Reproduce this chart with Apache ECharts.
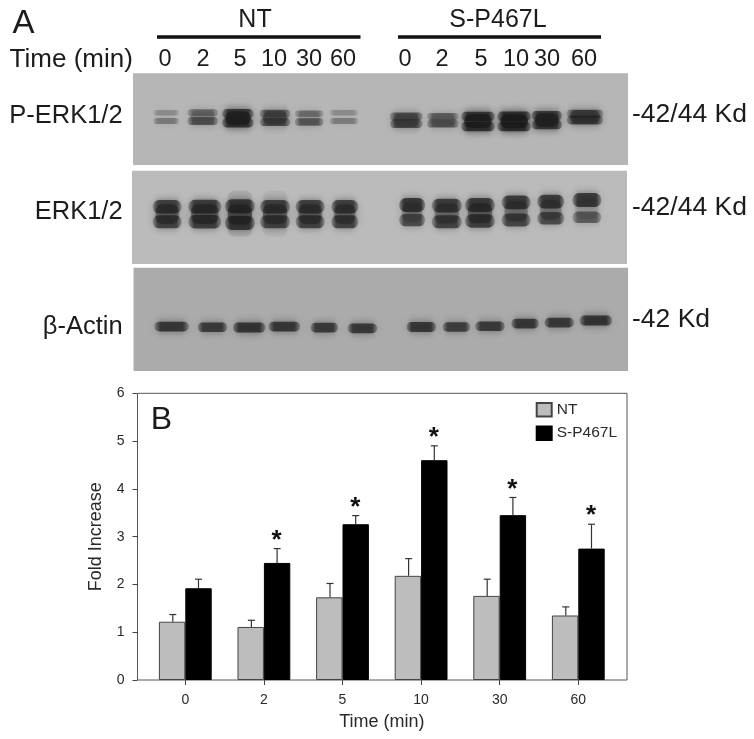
<!DOCTYPE html>
<html><head><meta charset="utf-8">
<style>html,body{margin:0;padding:0;background:#fff}#c{width:754px;height:739px}</style>
<script src="https://cdn.jsdelivr.net/npm/echarts@6/dist/echarts.min.js"></script>
</head><body><div id="c"></div>
<script>
// ---- Panel B data ----
const timeLabels = ['0','2','5','10','30','60'];
const ntMeans = [1.22,1.11,1.73,2.18,1.76,1.35];
const ntErrors = [0.15,0.14,0.29,0.36,0.35,0.18];
const spMeans = [1.92,2.45,3.26,4.60,3.45,2.75];
const spErrors = [0.19,0.30,0.18,0.30,0.37,0.51];
const significant = [false,true,true,true,true,true];

// ---- Panel A data: gel readings (lane position and width in % of gel width,
//      migration in % of gel height, density 0-1) ----
const pErkLane = [6.7,14.1,21.2,28.7,35.6,42.6,55.2,62.6,69.7,77,83.6,91.3];
const pErkWidth = [5.2,6.2,6.4,6.2,5.8,5.8,6.6,6.4,6.8,6.8,6.2,7.4];
const pErkUpperPos = [43,43,44,44,44,43,47,47,47,47,46,44];
const pErkLowerPos = [52,52,54,53,53,52,55,55,58,58,56,51];
const pErkUpperDensity = [0.22,0.5,0.92,0.68,0.42,0.22,0.68,0.52,0.95,1,0.9,0.68];
const pErkLowerDensity = [0.38,0.68,0.98,0.78,0.62,0.36,0.78,0.66,1,1,0.92,0.82];
const pErkBlob = [0,0.12,0.65,0.35,0.1,0,0.25,0.15,0.72,0.78,0.62,0.4];
const pErkBlobPos = [48,48,49,48.5,48.5,48,51,51,52,52.5,51,47.5];

const erkLane = [7.1,14.7,21.8,28.9,36,43,56.6,63.6,70.3,77.6,84.6,91.9];
const erkWidth = [5.9,6.7,6.1,6.1,5.9,5.5,5.3,6.1,6.1,5.9,5.5,5.9];
const erkUpperPos = [38.6,38.6,38,38.6,38.6,38.6,36.8,37.5,36.8,33.9,33.2,31.4];
const erkLowerPos = [54.7,54.7,56,54.7,54.7,54.7,52.8,54.7,53.9,52.8,51,50];
const erkUpperDensity = [0.85,0.88,0.92,0.85,0.85,0.85,0.95,0.88,0.9,0.9,0.9,0.92];
const erkLowerDensity = [0.82,0.85,0.92,0.82,0.82,0.82,0.75,0.82,0.85,0.8,0.76,0.62];
const erkBlob = [0.45,0.5,0.55,0.45,0.45,0.4,0.2,0.35,0.45,0.35,0.3,0.1];
const erkBlobPos = [46.5,46.5,47,46.5,46.5,46.5,45,46,45.5,43.5,42,41];
const erkHalo = [0,0,0.1,0.06,0,0,0,0,0,0,0,0];

const actinLane = [7.7,15.96,23.4,30.5,38.6,46.3,58.2,65.3,72.1,79.2,86.1,93.5];
const actinWidth = [7.0,6.0,6.6,6.4,5.6,6.0,6.0,5.6,6.0,5.6,6.0,6.6];
const actinPos = [57,57.7,58,57,58,58.7,57.4,57.4,56.7,54.1,53.2,51.2];
const actinDensity = [0.92,0.88,0.95,0.92,0.88,0.9,0.92,0.85,0.88,0.92,0.9,0.95];

// ---- Texts ----
const laneLabels = ['0','2','5','10','30','60'];
const groupNames = ['NT','S-P467L'];
const blotNames = ['P-ERK1/2','ERK1/2','β-Actin'];
const sizeNames = ['-42/44 Kd','-42/44 Kd','-42 Kd'];

const FONT = '"Liberation Sans", Arial, sans-serif';
const INK = '#1c1c1c';
const BAR_W = 26.4;

function bands(lane, width, pos, density, thick) {
  return lane.map((x, i) => [x, pos[i], width[i], density[i], thick]);
}
function softFill(alpha) {
  const e = 'rgba(22,22,22,' + (alpha * 0.35) + ')';
  const m = 'rgba(22,22,22,' + alpha + ')';
  return { type: 'linear', x: 0, y: 0, x2: 1, y2: 0, colorStops: [
    { offset: 0, color: e }, { offset: 0.18, color: m }, { offset: 0.82, color: m }, { offset: 1, color: e } ] };
}
function renderBand(params, api) {
  const c = api.coord([api.value(0), api.value(1)]);
  const s = api.size([api.value(2), api.value(4)]);
  const a = api.value(3);
  const h = s[1] * (0.45 + 0.6 * a);
  const alpha = 0.1 + 0.66 * a;
  const shadow = 'rgba(22,22,22,' + alpha * 0.9 + ')';
  return { type: 'rect',
    shape: { x: c[0] - s[0] / 2, y: c[1] - h / 2, width: s[0], height: h, r: h / 2 },
    style: { fill: softFill(alpha), shadowBlur: 8, shadowColor: shadow } };
}
function renderHalo(params, api) {
  const c = api.coord([api.value(0), api.value(1)]);
  const s = api.size([api.value(2), api.value(4)]);
  const a = api.value(3);
  if (!a) return null;
  const fill = 'rgba(40,40,40,' + a + ')';
  return { type: 'rect',
    shape: { x: c[0] - s[0] / 2 + 3, y: c[1] - s[1] / 2 + 5, width: s[0] - 6, height: s[1] - 10, r: 7 },
    style: { fill: fill, shadowBlur: 10, shadowColor: fill } };
}
function errorRenderer(means, errors, side, marks) {
  return function (params, api) {
    const i = api.value(0);
    const base = api.coord([i, means[i]]);
    const top = api.coord([i, means[i] + errors[i]]);
    const x = base[0] + side * BAR_W / 2 + (side < 0 ? 0.7 : 0);
    const st = { stroke: '#333', lineWidth: 1.2 };
    const kids = [
      { type: 'line', shape: { x1: x, y1: base[1], x2: x, y2: top[1] }, style: st },
      { type: 'line', shape: { x1: x - 3.5, y1: top[1], x2: x + 3.5, y2: top[1] }, style: st }
    ];
    if (marks && marks[i]) {
      kids.push({ type: 'text', x: x - 0.5, y: top[1] - 8,
        style: { text: '*', font: 'bold 26px ' + FONT, fill: '#111', align: 'center', verticalAlign: 'middle' } });
    }
    return { type: 'group', children: kids };
  };
}

const blotGrids = [
  { left: 133, width: 495, top: 73.3, height: 91.7, show: true, borderWidth: 0, backgroundColor: '#b6b6b6' },
  { left: 132, width: 495, top: 170.7, height: 93.3, show: true, borderWidth: 0, backgroundColor: '#bbbbbb' },
  { left: 133.5, width: 494.5, top: 267.7, height: 103.3, show: true, borderWidth: 0, backgroundColor: '#ababab' }
];
const hiddenX = i => ({ type: 'value', gridIndex: i, min: 0, max: 100, show: false });
const hiddenY = i => ({ type: 'value', gridIndex: i, min: 0, max: 100, inverse: true, show: false });

function band(name, grid, data, render) {
  return { type: 'custom', name, xAxisIndex: grid, yAxisIndex: grid, coordinateSystem: 'cartesian2d',
    data, renderItem: render, silent: true, clip: true, animation: false };
}

function label(text, x, y, size, align) {
  return { type: 'text', x, y, style: { text, font: size + 'px ' + FONT, fill: INK, align: align || 'center', verticalAlign: 'middle' } };
}
const laneXs = [[165,203,240,274,309,343],[405,442,481,516,547,584]];
const graphics = [
  label('A', 23.5, 24, 33),
  label(groupNames[0], 255, 20, 25),
  label(groupNames[1], 498, 20, 25),
  label('Time (min)', 9.6, 60, 26, 'left'),
  label(blotNames[0], 122.6, 116, 25.5, 'right'),
  label(blotNames[1], 122.6, 212, 25.5, 'right'),
  label(blotNames[2], 122.6, 327, 25.5, 'right'),
  label(sizeNames[0], 632, 115, 26.5, 'left'),
  label(sizeNames[1], 632, 208, 26.5, 'left'),
  label(sizeNames[2], 632, 320, 26.5, 'left'),
  label('B', 161.5, 420, 32),
  { type: 'rect', shape: { x: 157, y: 35.3, width: 203.5, height: 3.4 }, style: { fill: '#111' } },
  { type: 'rect', shape: { x: 398, y: 35.3, width: 203, height: 3.4 }, style: { fill: '#111' } }
];
laneXs.forEach(xs => xs.forEach((x, i) => graphics.push(label(laneLabels[i], x, 60, 23.5))));

const option = {
  animation: false,
  backgroundColor: '#fff',
  textStyle: { fontFamily: FONT },
  grid: blotGrids.concat([
    { left: 137.5, width: 489.5, top: 393.3, height: 286.7, show: true, borderColor: '#555', borderWidth: 1, backgroundColor: '#fff' },
    { left: 146, width: 471.6, top: 393.3, height: 286.7, show: false }
  ]),
  xAxis: [hiddenX(0), hiddenX(1), hiddenX(2),
    hiddenX(3),
    { type: 'category', gridIndex: 4, data: timeLabels, boundaryGap: true,
      axisLine: { show: false },
      axisTick: { show: true, alignWithLabel: true, length: 5, lineStyle: { color: '#444' } },
      axisLabel: { color: '#2a2a2a', fontSize: 14, margin: 13, fontFamily: FONT },
      name: 'Time (min)', nameLocation: 'middle', nameGap: 33,
      nameTextStyle: { color: '#2a2a2a', fontSize: 18, fontFamily: FONT } }
  ],
  yAxis: [hiddenY(0), hiddenY(1), hiddenY(2),
    { type: 'value', gridIndex: 3, min: 0, max: 6, show: false },
    { type: 'value', gridIndex: 4, min: 0, max: 6, interval: 1, offset: 8.5,
      axisLine: { show: false }, splitLine: { show: false },
      axisTick: { show: true, length: 5, lineStyle: { color: '#444' } },
      axisLabel: { color: '#2a2a2a', fontSize: 14, margin: 13, fontFamily: FONT },
      name: 'Fold Increase', nameLocation: 'middle', nameRotate: 90, nameGap: 32,
      nameTextStyle: { color: '#2a2a2a', fontSize: 18, fontFamily: FONT } }
  ],
  legend: { orient: 'vertical', left: 535.7, top: 401.7, padding: 0, itemWidth: 15, itemHeight: 13.5, itemGap: 7.5, icon: 'rect',
    data: ['NT','S-P467L'], textStyle: { color: '#2a2a2a', fontSize: 15.5, fontFamily: FONT }, selectedMode: false },
  series: [
    band('ERK halo', 1, bands(erkLane, erkWidth, erkLane.map(() => 46), erkHalo, 60), renderHalo),
    band('P-ERK blob', 0, bands(pErkLane, pErkWidth, pErkBlobPos, pErkBlob, 26), renderHalo),
    band('ERK blob', 1, bands(erkLane, erkWidth, erkBlobPos, erkBlob, 32), renderHalo),
    band('P-ERK upper', 0, bands(pErkLane, pErkWidth, pErkUpperPos, pErkUpperDensity, 10), renderBand),
    band('P-ERK lower', 0, bands(pErkLane, pErkWidth, pErkLowerPos, pErkLowerDensity, 10), renderBand),
    band('ERK upper', 1, bands(erkLane, erkWidth, erkUpperPos, erkUpperDensity, 15), renderBand),
    band('ERK lower', 1, bands(erkLane, erkWidth, erkLowerPos, erkLowerDensity, 15), renderBand),
    band('Actin', 2, bands(actinLane, actinWidth, actinPos, actinDensity, 9.5), renderBand),
    { type: 'bar', name: 'NT', xAxisIndex: 4, yAxisIndex: 4, data: ntMeans, barWidth: BAR_W, barGap: 0,
      itemStyle: { color: '#bdbdbd', borderColor: '#444', borderWidth: 1 }, z: 3 },
    { type: 'bar', name: 'S-P467L', xAxisIndex: 4, yAxisIndex: 4, data: spMeans, barWidth: BAR_W, barGap: 0,
      itemStyle: { color: '#000', borderColor: '#000', borderWidth: 1 }, z: 3 },
    { type: 'custom', name: 'NT error', xAxisIndex: 4, yAxisIndex: 4, data: timeLabels.map((t, i) => [i, ntMeans[i] + ntErrors[i]]),
      encode: { x: 0, y: 1 }, renderItem: errorRenderer(ntMeans, ntErrors, -1), z: 4, silent: true },
    { type: 'custom', name: 'S-P467L error', xAxisIndex: 4, yAxisIndex: 4, data: timeLabels.map((t, i) => [i, spMeans[i] + spErrors[i]]),
      encode: { x: 0, y: 1 }, renderItem: errorRenderer(spMeans, spErrors, 1, significant), z: 4, silent: true }
  ],
  graphic: graphics
};
const chart = echarts.init(document.getElementById('c'), null, { renderer: 'canvas' });
chart.setOption(option);
</script></body></html>
